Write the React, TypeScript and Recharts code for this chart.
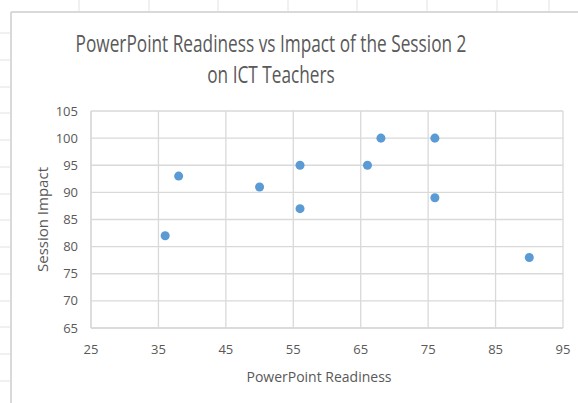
import { ScatterChart, Scatter, XAxis, YAxis, ZAxis, CartesianGrid } from 'recharts';

// values
const readiness = [38, 36, 50, 56, 56, 68, 76, 66, 76, 90];
const impact = [93, 82, 91, 95, 87, 100, 100, 95, 89, 78];
const xTicks = [25, 35, 45, 55, 65, 75, 85, 95];
const yTicks = [65, 70, 75, 80, 85, 90, 95, 100, 105];

const titleLines = ['PowerPoint Readiness vs Impact of the Session 2', 'on ICT Teachers'];
const xTitle = 'PowerPoint Readiness';
const yTitle = 'Session Impact';

// faint worksheet cell lines peeking out behind the chart
const sheetRows = [33, 60, 87, 113, 140, 167, 194, 220, 247, 274, 301, 327, 354, 381];
const sheetCols = [79, 149, 218, 288, 357, 427, 497, 549];

const FONT = "'Open Sans', sans-serif";
const TEXT = '#595959';
const GRID = '#D9D9D9';

export default function App() {
  const points = readiness.map((x, i) => ({ x, y: impact[i] }));

  return (
    <div style={{ position: 'absolute', left: 0, top: 0, width: 578, height: 403, background: '#fff', fontFamily: FONT }}>
      <svg width={578} height={403} style={{ position: 'absolute', left: 0, top: 0 }}>
        {sheetRows.map(y => (
          <line key={'r' + y} x1={0} x2={10} y1={y} y2={y} stroke="#E2E2E2" />
        ))}
        {sheetCols.map(x => (
          <line key={'c' + x} x1={x} x2={x} y1={0} y2={11} stroke="#E2E2E2" />
        ))}
        <line x1={11} x2={11} y1={12} y2={403} stroke="#D9D9D9" strokeWidth={2} />
        <line x1={11} x2={578} y1={12} y2={12} stroke="#D9D9D9" strokeWidth={2} />
        {/* title is set tall and narrow like the original */}
        <g transform="translate(271,0) scale(0.75,1)">
          {titleLines.map((t, i) => (
            <text key={t} x={0} y={52 + i * 31} textAnchor="middle" fill={TEXT} fontSize={23} fontFamily={FONT}>
              {t}
            </text>
          ))}
        </g>
      </svg>

      <div style={{ position: 'absolute', left: 0, top: 0 }}>
        <ScatterChart width={578} height={403} margin={{ top: 111, right: 15, bottom: 15, left: 41 }}>
          <CartesianGrid stroke={GRID} strokeWidth={1.3} />
          <XAxis
            type="number"
            dataKey="x"
            domain={[25, 95]}
            ticks={xTicks}
            height={60}
            axisLine={{ stroke: GRID, strokeWidth: 1.3 }}
            tickLine={false}
            tickMargin={11}
            tick={{ fill: TEXT, fontSize: 13, fontFamily: FONT }}
            label={{ value: xTitle, position: 'insideBottom', offset: 6, dx: -8, fill: TEXT, fontSize: 14, fontFamily: FONT }}
          />
          <YAxis
            type="number"
            dataKey="y"
            domain={[65, 105]}
            ticks={yTicks}
            width={50}
            axisLine={{ stroke: GRID, strokeWidth: 1.3 }}
            tickLine={false}
            tickMargin={7}
            tick={{ fill: TEXT, fontSize: 13, fontFamily: FONT }}
            label={{ value: yTitle, angle: -90, position: 'insideLeft', offset: 2, fill: TEXT, fontSize: 15, fontFamily: FONT, style: { textAnchor: 'middle' } }}
          />
          <ZAxis range={[85, 85]} />
          <Scatter data={points} fill="#5B9BD5" isAnimationActive={false} />
        </ScatterChart>
      </div>
    </div>
  );
}
